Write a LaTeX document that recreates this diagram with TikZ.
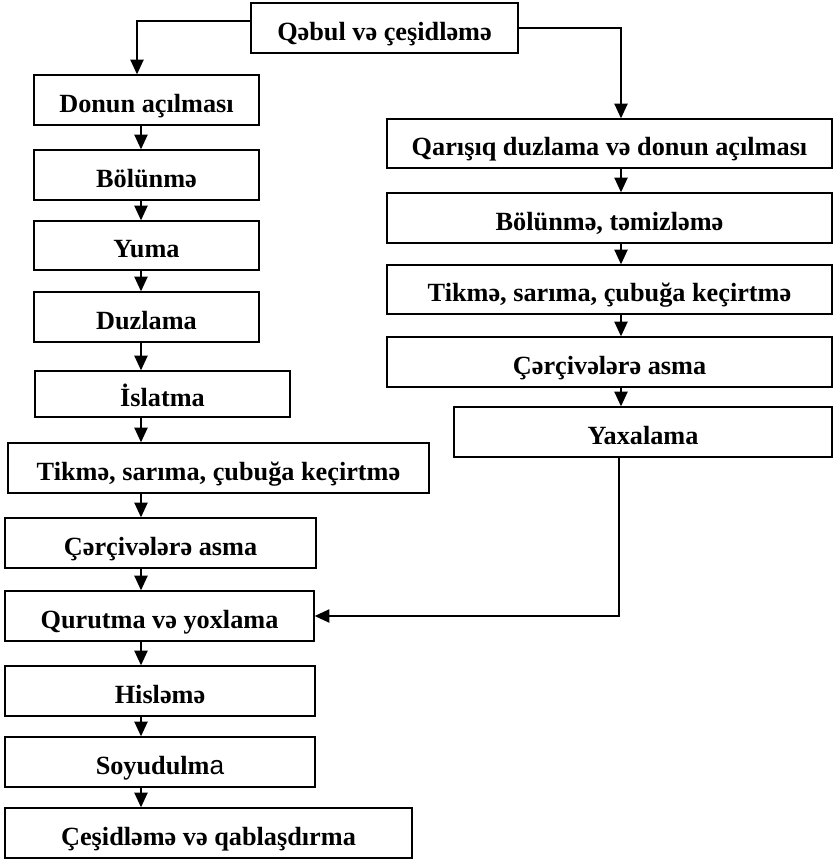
\documentclass[tikz,border=0pt]{standalone}
\usepackage{fontspec}
\setmainfont{Liberation Serif}
\newfontfamily\sansa{Liberation Sans}
\usetikzlibrary{arrows.meta}
\tikzset{
  box/.style={draw, line width=1.1pt, inner sep=0pt, text height=18.4pt, text depth=0pt,
    font=\fontsize{19.7pt}{22pt}\selectfont\bfseries},
  arr/.style={-{Triangle[length=11pt,width=10pt]}, line width=0.9pt},
  ln/.style={line width=0.9pt}
}
\newcommand\pbox[6]{\node[box, minimum width={(#4-#2)*0.75pt}, minimum height={(#5-#3)*0.75pt}] (#1) at ({(#2+#4)/2},{(#3+#5)/2}) {#6};}
\begin{document}
\begin{tikzpicture}[x=0.75pt,y=-0.75pt]
\useasboundingbox (0,0) rectangle (833,860);
\pbox{top}{251}{3}{518}{53}{Qəbul və çeşidləmə}
% left column
\pbox{l1}{34}{75}{259}{125}{Donun açılması}
\pbox{l2}{34}{150}{259}{200}{Bölünmə}
\pbox{l3}{34}{221}{259}{270}{Yuma}
\pbox{l4}{34}{292}{259}{342}{Duzlama}
\pbox{l5}{35}{371}{290}{417}{İslatma}
\pbox{l6}{8}{443}{429}{493}{Tikmə, sarıma, çubuğa keçirtmə}
\pbox{l7}{5}{518}{316}{568}{Çərçivələrə asma}
\pbox{l8}{5}{591}{314}{641}{Qurutma və yoxlama}
\pbox{l9}{5}{666}{315}{716}{Hisləmə}
\pbox{l10}{5}{737}{315}{787}{Soyudulm{\sansa\mdseries a}}
\pbox{l11}{5}{808}{412}{858}{Çeşidləmə və qablaşdırma}
% right column
\pbox{r1}{387}{119}{832}{168}{Qarışıq duzlama və donun açılması}
\pbox{r2}{387}{193}{832}{243}{Bölünmə, təmizləmə}
\pbox{r3}{387}{265}{832}{314}{Tikmə, sarıma, çubuğa keçirtmə}
\pbox{r4}{387}{337}{832}{387}{Çərçivələrə asma}
\pbox{r5}{454}{407}{832}{457}{Yaxalama}
% connector guides
\coordinate (tl) at (137,21);
\coordinate (cl) at (141,0);
\coordinate (cr) at (621,0);
\coordinate (cy) at (619,0);
% connectors
\draw[arr] (top.west |- tl) -- (tl) -- (l1.north -| tl);
\draw[arr] (top.east) -| (r1.north -| cr);
\foreach \a/\b in {l1/l2,l2/l3,l3/l4,l4/l5,l5/l6,l6/l7,l7/l8,l8/l9,l9/l10,l10/l11}
  \draw[arr] (\a.south -| cl) -- (\b.north -| cl);
\foreach \a/\b in {r1/r2,r2/r3,r3/r4,r4/r5}
  \draw[arr] (\a.south -| cr) -- (\b.north -| cr);
\draw[arr] (r5.south -| cy) |- (l8.east);
\end{tikzpicture}
\end{document}
